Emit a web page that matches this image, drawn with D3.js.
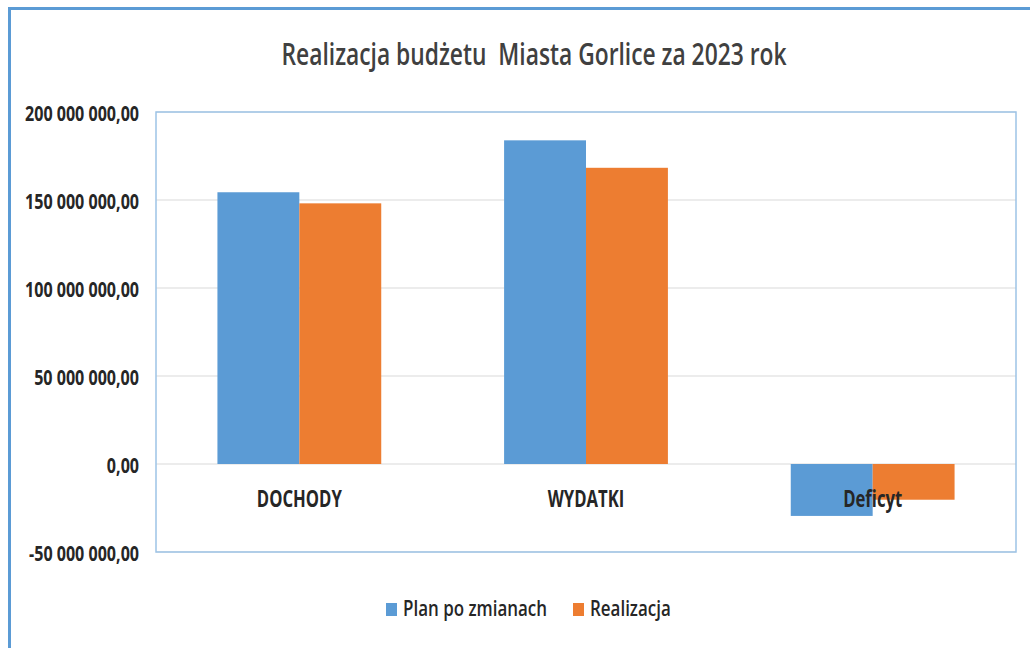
<!DOCTYPE html>
<html><head><meta charset="utf-8">
<script src="https://cdn.jsdelivr.net/npm/d3@7"></script>
<style>
html,body{margin:0;padding:0;background:#fff;}
svg{display:block;}
text{font-family:"Open Sans","Liberation Sans",sans-serif;}
</style></head>
<body>
<script>
const categories = ["DOCHODY", "WYDATKI", "Deficyt"];
const seriesNames = ["Plan po zmianach", "Realizacja"];
const planValues = [154400000, 183900000, -29500000];
const realValues = [148100000, 168300000, -20300000];
const yTicks = [-50000000, 0, 50000000, 100000000, 150000000, 200000000];
const colors = ["#5b9bd5", "#ed7d31"];

const W = 1030, H = 648;
const svg = d3.select("body").append("svg").attr("width", W).attr("height", H);

// squeeze a selection of texts horizontally by a common factor
function squeeze(sel, refNode, targetW) {
  const k = targetW / refNode.getComputedTextLength();
  sel.each(function () {
    const w = this.getComputedTextLength();
    d3.select(this).attr("textLength", w * k).attr("lengthAdjust", "spacingAndGlyphs");
  });
}

// outer chart border
svg.append("rect").attr("x", 9.5).attr("y", 8.5).attr("width", 1100).attr("height", 700)
  .attr("fill", "#fff").attr("stroke", "#5b9bd5").attr("stroke-width", 3);

const plot = {left: 156, right: 1016, top: 112, bottom: 552};

const y = d3.scaleLinear().domain([-50000000, 200000000]).range([plot.bottom, plot.top]);
const x0 = d3.scaleBand().domain(categories).range([plot.left, plot.right]).paddingInner(0).paddingOuter(0);
// Excel gap width 150%: step = 2 bars + 1.5 bars
const barW = x0.bandwidth() / 3.5;
const cx = d => x0(d) + x0.bandwidth() / 2;
const x1 = d3.scaleBand().domain(seriesNames).range([-barW, barW]);

// grid
svg.append("g").selectAll("line").data(yTicks).join("line")
  .attr("x1", plot.left).attr("x2", plot.right)
  .attr("y1", d => y(d)).attr("y2", d => y(d))
  .attr("stroke", "#d9d9d9").attr("stroke-width", 1.2);

// plot border
svg.append("rect").attr("x", plot.left).attr("y", plot.top)
  .attr("width", plot.right - plot.left).attr("height", plot.bottom - plot.top)
  .attr("fill", "none").attr("stroke", "#9dc3e6").attr("stroke-width", 1.5);

// bars
const series = [planValues, realValues];
series.forEach((vals, si) => {
  svg.append("g").selectAll("rect").data(categories).join("rect")
    .attr("x", d => cx(d) + x1(seriesNames[si]))
    .attr("width", x1.bandwidth())
    .attr("y", (d, i) => y(Math.max(0, vals[i])))
    .attr("height", (d, i) => Math.abs(y(vals[i]) - y(0)))
    .attr("fill", colors[si]);
});

// y axis labels
const fmt = v => d3.format(",.2f")(v).replace(/,/g, " ").replace(".", ",").replace("−", "-");
const yAxis = d3.axisLeft(y).tickValues(yTicks).tickSize(0).tickPadding(0).tickFormat(fmt);
const ya = svg.append("g").attr("transform", "translate(139,2)").call(yAxis);
ya.select(".domain").remove();
const yt = ya.selectAll("text").attr("font-size", 21).attr("font-weight", "bold").attr("fill", "#262626")
  .attr("font-family", '"Open Sans","Liberation Sans",sans-serif');
squeeze(yt, yt.filter(d => d === 200000000).node(), 114);

// category labels
const ct = svg.append("g").selectAll("text").data(categories).join("text")
  .attr("x", d => cx(d)).attr("y", 507)
  .attr("text-anchor", "middle").attr("font-size", 24).attr("font-weight", "bold")
  .attr("fill", "#262626").text(d => d);
squeeze(ct, ct.node(), 85);

// title
const tt = svg.append("text").attr("x", 534).attr("y", 65).attr("text-anchor", "middle")
  .attr("font-size", 31).attr("font-weight", 600).attr("fill", "#404040")
  .style("white-space", "pre")
  .text("Realizacja budżetu  Miasta Gorlice za 2023 rok");
squeeze(tt, tt.node(), 505);

// legend
const legX = [386, 573], legTX = [403, 590];
const lt = svg.append("g").selectAll("text").data(seriesNames).join("text")
  .attr("x", (d, i) => legTX[i]).attr("y", 616).attr("font-size", 21).attr("font-weight", 600)
  .attr("fill", "#262626").text(d => d);
squeeze(lt, lt.node(), 144);
svg.append("g").selectAll("rect").data(seriesNames).join("rect")
  .attr("x", (d, i) => legX[i]).attr("y", 603).attr("width", 11).attr("height", 13)
  .attr("fill", (d, i) => colors[i]);
</script>
</body></html>
